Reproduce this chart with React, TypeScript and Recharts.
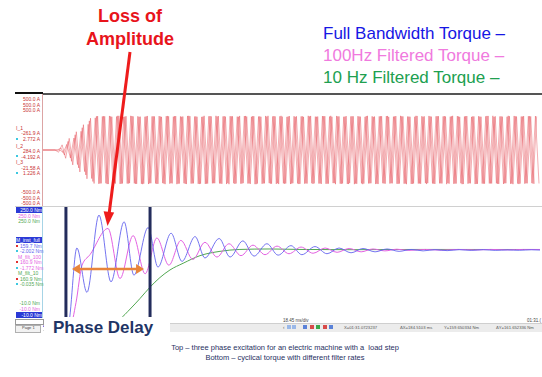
import React from 'react'
import { LineChart, Line, XAxis, YAxis, ReferenceLine } from 'recharts'

const FONT = '"Liberation Sans", Arial, Helvetica, sans-serif'

// top panel: three phase currents in A, one reading per half-cycle peak
const phaseStartMs = 4.4
const halfPeriodMs = 1.3
const phaseShiftMs = [0, 0.867, 1.733]

const i1Peaks = [
  0, -20, 46, -74, 104, -133, 163, -196, 226, -257, 284, -299,
  303, -298, 301, -304, 297, -300, 305, -299, 302, -296, 300, -303,
  298, -301, 304, -297, 300, -302, 296, -305, 301, -299, 303, -300,
  299, -304, 302, -298, 297, -301, 305, -300, 300, -297, 303, -302,
  298, -305, 301, -299, 304, -296, 299, -303, 302, -300, 297, -298,
  305, -301, 300, -304, 298, -299, 303, -297, 301, -302, 296, -300,
  304, -298, 299, -303, 302, -301, 297, -305, 300, -299, 303, -296,
  301, -302, 298, -300, 305, -297, 299, -304, 302, -301, 296, -298,
  303, -300, 300, -305, 297, -299, 304, -302, 301, -296, 298, -303,
  302, -299, 299, -301, 305, -300, 296, -304, 303, -298, 300, -302,
  297, -301, 304, -299, 301, -303, 298, -297, 302, -305, 299, -300,
  303, -298, 300, -302,
]
const i2Peaks = [
  0, 18, -45, 77, -101, 136, -160, 199, -223, 260, -281, 301,
  -299, 302, -304, 300, -297, 305, -301, 298, -300, 303, -302, 296,
  -305, 300, -298, 301, -303, 299, -300, 304, -296, 302, -301, 297,
  -302, 305, -299, 300, -304, 298, -301, 303, -297, 299, -300, 302,
  -296, 301, -303, 297, -300, 304, -298, 302, -305, 300, -299, 298,
  -301, 303, -297, 305, -302, 299, -300, 296, -304, 301, -298, 300,
  -303, 297, -299, 302, -301, 305, -296, 300, -302, 298, -304, 301,
  -300, 299, -305, 303, -298, 296, -301, 302, -299, 304, -297, 300,
  -302, 301, -300, 298, -303, 305, -299, 297, -304, 300, -301, 302,
  -298, 303, -296, 301, -300, 299, -305, 302, -297, 300, -303, 298,
  -301, 304, -299, 296, -302, 300, -298, 305, -300, 301, -304, 299,
  -297, 302, -301, 300,
]
const i3Peaks = [
  0, -22, 50, -71, 107, -130, 167, -193, 229, -255, 287, -302,
  300, -297, 304, -301, 299, -303, 296, -300, 305, -298, 301, -302,
  297, -304, 300, -299, 303, -296, 302, -301, 298, -305, 300, -297,
  304, -300, 299, -302, 296, -303, 301, -298, 305, -299, 300, -304,
  302, -297, 298, -301, 303, -300, 297, -305, 299, -302, 304, -296,
  300, -303, 301, -298, 296, -304, 302, -299, 300, -301, 305, -297,
  298, -300, 303, -302, 299, -296, 304, -301, 297, -303, 300, -305,
  302, -298, 296, -299, 301, -304, 300, -297, 303, -300, 298, -302,
  305, -301, 299, -303, 297, -300, 302, -296, 304, -299, 301, -298,
  300, -305, 298, -302, 303, -297, 299, -301, 296, -304, 302, -300,
  301, -299, 305, -298, 300, -303, 297, -302, 304, -300, 299, -301,
  302, -296, 303, -299,
]

// bottom panel: torque in Nm against time in ms
const fullTimes = [
  0, 8.4, 9.2, 12.4, 16.1, 20.5, 24.9, 29.7, 33.3, 38.5, 42.1, 46.9, 50.9,
  55.7, 59.3, 64.5, 68.5, 73.2, 77.3, 82.0, 86.1, 90.8, 94.8,
  99.6, 104.0, 108.4, 112.8, 117.2, 121.6, 126.0, 130.4, 134.8, 139.2,
  143.6, 148.0, 152.4, 156.8, 161.2, 165.6, 170.0, 174.4, 178.8, 182.0,
]
const fullTorque = [
  0, 0, 2, 164, 71, 233, 93, 219, 107, 207, 124, 195, 136,
  188, 143, 184, 145, 179, 147, 173, 149, 169, 150,
  167, 152, 164, 154, 163, 156, 162, 157, 161, 158,
  160.5, 158.5, 160.5, 159, 160.5, 159, 160, 159.2, 160.3, 159.7,
]
const filt100Times = [
  0, 9.9, 12.1, 14.3, 17.2,
  23.8, 28.2, 33.0, 37.4, 41.7, 46.1, 50.5, 54.9, 59.3, 63.7,
  68.1, 72.5, 76.9, 81.3, 85.7, 90.1, 94.5, 98.9, 103.3, 107.7,
  112.1, 116.5, 120.8, 125.2, 129.6,
  134, 140, 146, 152, 158, 164, 170, 176, 182,
]
const filt100Torque = [
  0, 0, 50, 128, 150,
  205, 100, 190, 110, 185, 128, 180, 140, 176, 145,
  173, 148, 170, 150, 168, 152, 166, 153, 164, 155,
  163, 156, 162, 158, 161.5,
  159, 161, 159.5, 161, 160, 161, 160.2, 161, 160.9,
]
const filt10Times = [0, 9.2, 17.2, 22.7, 28.2, 31.9, 35.5, 39.2, 42.8, 46.5, 51.3, 57.5, 64.8, 72.1, 83.1, 94.1, 112.4, 138.1, 160.0, 182]
const filt10Torque = [0, 0, 2, 7, 16, 36, 58, 82, 102, 118, 132, 148, 157, 161, 162, 161, 160.5, 161, 160.9, 160.9]

const cursorMs = [8.4, 39.2]
const delayArrowMs = [10.6, 37.0]
const delayArrowNm = 120
const divTicksMs = [2.15, 20.6, 39.05, 57.5, 75.95, 94.4, 112.85, 131.3, 149.75, 168.2]

const phaseSeries = [i1Peaks, i2Peaks, i3Peaks].map((peaks, k) => [
  { t: 0, v: 0 },
  ...peaks.map((v, i) => ({ t: phaseStartMs + phaseShiftMs[k] + i * halfPeriodMs, v })),
])
const zip = (ts: number[], vs: number[]) => ts.map((t, i) => ({ t, v: vs[i] }))
const fullData = zip(fullTimes, fullTorque)
const filt100Data = zip(filt100Times, filt100Torque)
const filt10Data = zip(filt10Times, filt10Torque)

const BLUE = '#6464ee'
const PINK = '#e462e2'
const GREEN = '#52a852'
const ORANGE = '#e8843a'
const NAVY = '#1f3566'
const RED_LBL = '#c83232'

function DoubleArrow(p: any) {
  const { x1, y1, x2, y2 } = p
  const h = 8
  const w = 5
  return (
    <g>
      <line x1={x1 + h - 1} y1={y1} x2={x2 - h + 1} y2={y2} stroke={ORANGE} strokeWidth={2.5} />
      <polygon points={`${x1},${y1} ${x1 + h},${y1 - w} ${x1 + h},${y1 + w}`} fill={ORANGE} />
      <polygon points={`${x2},${y2} ${x2 - h},${y2 - w} ${x2 - h},${y2 + w}`} fill={ORANGE} />
    </g>
  )
}

type TP = { x: number; y: number; c?: string; s?: number; right?: boolean; bg?: string; w?: number; children: React.ReactNode }
function T({ x, y, c = '#333', s = 5, right, bg, w, children }: TP) {
  const st: React.CSSProperties = {
    position: 'absolute',
    top: y - s * 0.6,
    fontSize: s,
    lineHeight: `${s * 1.2}px`,
    color: c,
    whiteSpace: 'nowrap',
    fontFamily: FONT,
  }
  if (bg) {
    st.left = x
    st.width = w
    st.background = bg
    st.textAlign = right ? 'right' : 'left'
  } else if (right) {
    st.right = 542 - x
  } else {
    st.left = x
  }
  return <div style={st}>{children}</div>
}

const box = (l: number, t: number, w: number, h: number, extra: React.CSSProperties = {}) => (
  <div style={{ position: 'absolute', left: l, top: t, width: w, height: h, ...extra }} />
)

export default function App() {
  return (
    <div style={{ position: 'absolute', left: 0, top: 0, width: 542, height: 377, background: '#fff', overflow: 'hidden', fontFamily: FONT }}>
      {/* headline texts */}
      <div style={{ position: 'absolute', left: 70, top: 5, width: 120, textAlign: 'center', color: '#e8141b', fontWeight: 'bold', fontSize: 18, lineHeight: '23px' }}>
        Loss of<br />Amplitude
      </div>
      <div style={{ position: 'absolute', left: 323, top: 23, fontSize: 17, lineHeight: '22px', whiteSpace: 'nowrap' }}>
        <div style={{ color: '#1616e4' }}>Full Bandwidth Torque –</div>
        <div style={{ color: '#f07ade' }}>100Hz Filtered Torque –</div>
        <div style={{ color: '#20a050' }}>10 Hz Filtered Torque –</div>
      </div>

      {/* frames */}
      {box(15, 92, 28, 2, { background: '#111' })}
      {box(43, 93, 499, 1.5, { background: '#555' })}
      {box(15, 206, 527, 1, { background: '#d0d0d0' })}
      {box(42, 94, 1, 112, { background: '#dca4a4' })}
      {box(42, 207, 1, 111, { background: '#a6d4e6' })}

      {/* top panel */}
      <div style={{ position: 'absolute', left: 43, top: 94 }}>
        <LineChart width={497} height={112} margin={{ top: 0, right: 0, bottom: 0, left: 0 }}>
          <XAxis type="number" dataKey="t" domain={[0, 182]} hide allowDataOverflow />
          <YAxis type="number" domain={[-500, 500]} hide />
          {phaseSeries.map((d, k) => (
            <Line key={k} data={d} dataKey="v" type="linear" stroke="#e03840" strokeWidth={1} strokeOpacity={0.4} dot={false} isAnimationActive={false} />
          ))}
        </LineChart>
      </div>

      {/* bottom panel */}
      <div style={{ position: 'absolute', left: 43, top: 207 }}>
        <LineChart width={497} height={124} margin={{ top: 0, right: 0, bottom: 0, left: 0 }}>
          <XAxis
            type="number"
            dataKey="t"
            domain={[0, 182]}
            allowDataOverflow
            ticks={divTicksMs}
            interval={0}
            tickFormatter={() => ''}
            height={14}
            mirror
            tickSize={3}
            axisLine={{ stroke: '#b4b4b4' }}
            tickLine={{ stroke: '#b4b4b4' }}
          />
          <YAxis type="number" domain={[-10, 250]} hide allowDataOverflow />
          <Line data={filt10Data} dataKey="v" type="monotone" stroke={GREEN} strokeWidth={1} dot={false} isAnimationActive={false} />
          <Line data={filt100Data} dataKey="v" type="monotone" stroke={PINK} strokeWidth={1} dot={false} isAnimationActive={false} />
          <Line data={fullData} dataKey="v" type="monotone" stroke={BLUE} strokeWidth={0.9} dot={false} isAnimationActive={false} />
          {cursorMs.map((c) => (
            <ReferenceLine key={c} x={c} stroke="#232c5c" strokeWidth={3} />
          ))}
          <ReferenceLine
            segment={[{ x: delayArrowMs[0], y: delayArrowNm }, { x: delayArrowMs[1], y: delayArrowNm }]}
            shape={DoubleArrow}
          />
        </LineChart>
      </div>

      {/* top panel labels */}
      <T x={40} y={99} c={RED_LBL} right>500.0 A</T>
      <T x={40} y={104.5} c={RED_LBL} right>500.0 A</T>
      <T x={40} y={110} c={RED_LBL} right>500.0 A</T>
      <T x={16} y={128} c={RED_LBL}>I_1</T>
      <T x={40} y={133} c={RED_LBL} right>-261.9 A</T>
      <T x={40} y={139} c={RED_LBL} right>2.772 A</T>
      <T x={16} y={146} c={RED_LBL}>I_2</T>
      <T x={40} y={151} c={RED_LBL} right>284.0 A</T>
      <T x={40} y={156.5} c={RED_LBL} right>-4.192 A</T>
      <T x={16} y={162} c={RED_LBL}>I_3</T>
      <T x={40} y={167.5} c={RED_LBL} right>-21.58 A</T>
      <T x={40} y={173} c={RED_LBL} right>1.226 A</T>
      <T x={40} y={192} c={RED_LBL} right>-500.0 A</T>
      <T x={40} y={197.5} c={RED_LBL} right>-500.0 A</T>
      <T x={40} y={203} c={RED_LBL} right>-500.0 A</T>
      {box(16, 138, 2, 2, { background: '#3cc8e0' })}
      {box(16, 155, 2, 2, { background: '#3cc8e0' })}
      {box(16, 172, 2, 2, { background: '#3cc8e0' })}

      {/* bottom panel labels */}
      <T x={16} y={209.5} w={26} c="#fff" bg="#2b3ad6" right>250.0 Nm</T>
      <T x={40} y={215.5} c={PINK} right>250.0 Nm</T>
      <T x={40} y={221} c={GREEN} right>250.0 Nm</T>
      <T x={16} y={240} w={26} c="#fff" bg="#2b3ad6">M_inst_full</T>
      <T x={20} y={245.5} c={BLUE}>159.7 Nm</T>
      <T x={20} y={251} c={BLUE}>-2.002 Nm</T>
      <T x={18} y={256.5} c={PINK}>M_filt_100</T>
      <T x={20} y={262} c={PINK}>160.9 Nm</T>
      <T x={20} y={267.5} c={PINK}>-1.772 Nm</T>
      <T x={18} y={273} c={GREEN}>M_filt_10</T>
      <T x={20} y={278.5} c={GREEN}>160.9 Nm</T>
      <T x={20} y={284} c={GREEN}>-0.035 Nm</T>
      {box(16, 244.5, 2, 2, { background: '#e03030' })}
      {box(16, 250, 2, 2, { background: '#3cc8e0' })}
      {box(16, 261, 2, 2, { background: '#e03030' })}
      {box(16, 266.5, 2, 2, { background: '#3cc8e0' })}
      {box(16, 277.5, 2, 2, { background: '#e03030' })}
      {box(16, 283, 2, 2, { background: '#3cc8e0' })}
      <T x={40} y={303} c={GREEN} right>-10.0 Nm</T>
      <T x={40} y={309} c={PINK} right>-10.0 Nm</T>
      <T x={16} y={315} w={26} c="#fff" bg="#2b3ad6" right>-10.0 Nm</T>
      {box(15, 318.5, 27, 4, { border: '1px solid #9a9a9a', background: '#fff' })}
      {box(15, 325, 24, 6, { border: '1px solid #b0b0b0', background: '#f2f2f2' })}
      <T x={22} y={328.5} c="#444" s={4}>Page 1</T>

      {/* time axis and status bar */}
      <T x={283} y={320.5} c="#444" s={4.5}>18.45 ms/div</T>
      <T x={541} y={320.5} c="#444" s={4.5} right>01:31.(</T>
      {box(170, 323, 372, 8, { background: '#ececec', borderTop: '1px solid #cfcfcf' })}
      <T x={283} y={327.5} c="#555" s={4.5}>‹</T>
      {box(287, 325, 4, 4, { background: '#9ab8e8' })}
      {box(292, 325, 4, 4, { background: '#9ab8e8' })}
      {box(303, 325, 4, 4, { background: '#5a82d8' })}
      {box(309.5, 325, 4, 4, { background: '#d84a4a' })}
      {box(316, 325, 4, 4, { background: '#3aa84a' })}
      {box(322.5, 325, 4, 4, { background: '#d84a4a' })}
      {box(329, 325, 4, 4, { background: '#5a82d8' })}
      <T x={344} y={327.5} c="#555" s={4.2}>X=01:31.0723237</T>
      <T x={400} y={327.5} c="#555" s={4.2}>ΔX=184.5103 ms</T>
      <T x={444} y={327.5} c="#555" s={4.2}>Y=159.650334 Nm</T>
      <T x={496} y={327.5} c="#555" s={4.2}>ΔY=161.652336 Nm</T>

      {/* phase delay label */}
      {box(44, 317, 126, 29, { background: '#fff' })}
      <div style={{ position: 'absolute', left: 53, top: 318, fontSize: 17, lineHeight: '20px', fontWeight: 'bold', color: NAVY, whiteSpace: 'nowrap' }}>
        Phase Delay
      </div>

      {/* caption */}
      <div style={{ position: 'absolute', left: 0, top: 343, width: 570, textAlign: 'center', fontSize: 7.5, lineHeight: '10px', color: '#1f2f5f' }}>
        Top – three phase excitation for an electric machine with a&nbsp; load step
        <br />
        Bottom – cyclical torque with different filter rates
      </div>

      {/* loss of amplitude arrow */}
      <svg width={542} height={377} style={{ position: 'absolute', left: 0, top: 0, pointerEvents: 'none' }}>
        <line x1={130} y1={52} x2={109.2} y2={213} stroke="#ee1c1c" strokeWidth={3} />
        <polygon points="107.5,226 114.2,212.5 103.6,211.2" fill="#ee1c1c" />
      </svg>
    </div>
  )
}
